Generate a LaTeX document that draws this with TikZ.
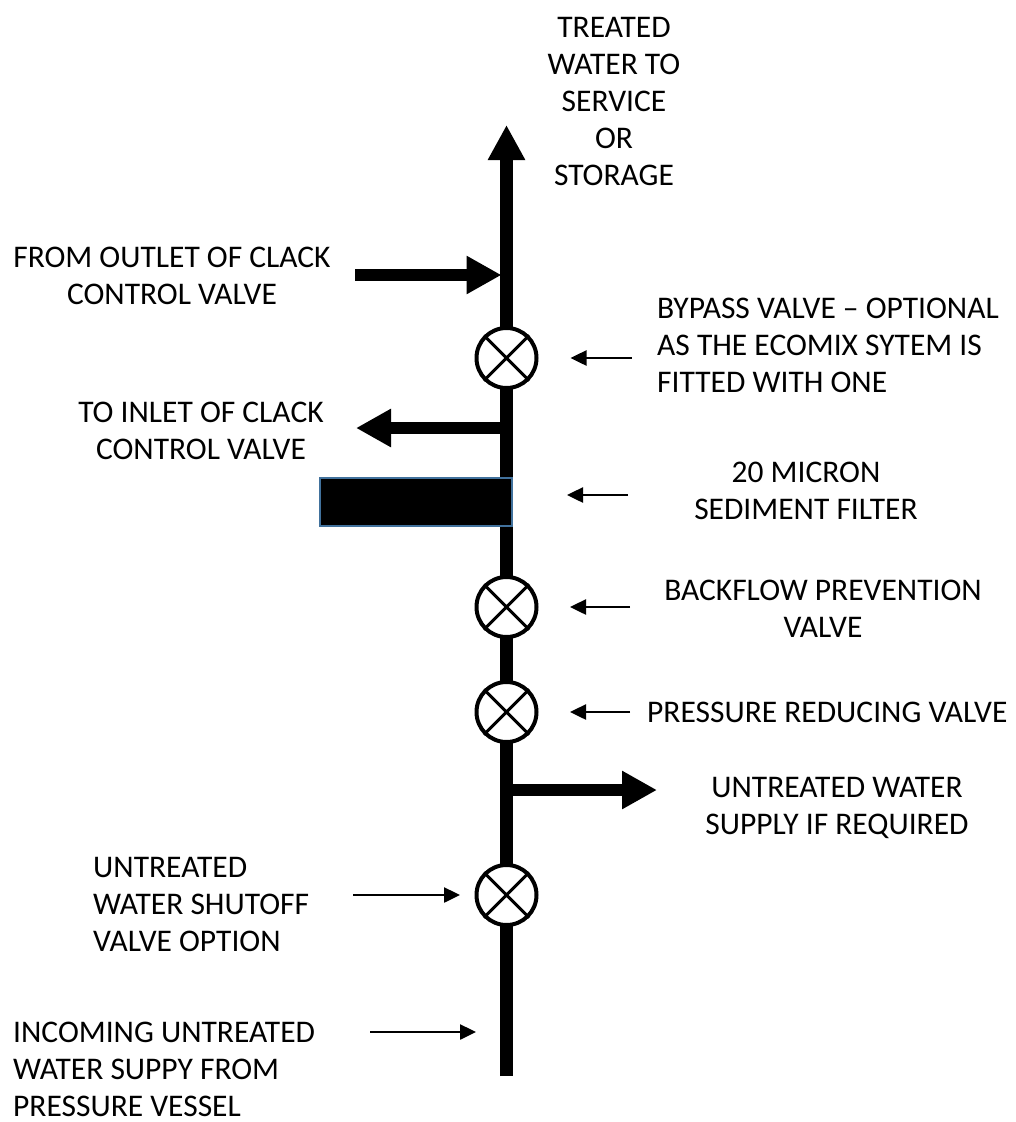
\documentclass[tikz,border=0pt]{standalone}
\usepackage{xcolor}
\usepackage{fontspec}
\setmainfont{Carlito}
\usetikzlibrary{arrows.meta}
\definecolor{filterblue}{HTML}{41719C}

\begin{document}
\begin{tikzpicture}[x=1pt,y=-1pt]
	\tikzstyle{label} = [font=\fontsize{31.5}{37}\selectfont, inner sep=0pt]
	\tikzstyle{valve} = [circle, draw, line width=4pt, fill=white, minimum size=60pt, inner sep=0pt]
	\tikzstyle{filterbox} = [draw=filterblue, line width=2pt, fill=black, minimum width=192pt, minimum height=48pt, inner sep=0pt]
	\tikzset{pipe/.style = {line width=12.5pt, -{Triangle[length=35pt,width=35pt]}}}
	\tikzset{flow/.style = {line width=12pt, -{Triangle[length=35pt,width=36pt]}}}
	\tikzset{pointer/.style = {line width=2.5pt, -{Triangle[length=16pt,width=15pt]}}}
	\tikzset{cross/.style = {line width=3pt}}
	
	\useasboundingbox (0,0) rectangle (1016,1122);
	
	% main line
	\coordinate (bottom) at (506.5,1076);
	\coordinate (top) at (506.5,125);
	\draw[pipe](bottom) to (top);
	
	% branches
	\coordinate (teeout) at (506.5,275);
	\coordinate (outletend) at (355,275);
	\draw[flow](outletend) to ([xshift=-5pt]teeout);
	
	\coordinate (teein) at (506.5,428);
	\coordinate (inletend) at (356,428);
	\draw[flow](teein) to (inletend);
	
	\coordinate (teeraw) at (506.5,790);
	\coordinate (rawend) at (657,790);
	\draw[flow](teeraw) to (rawend);
	
	% valves and filter
	\node[filterbox](filter) at (416,502) {};
	\node[valve](bypass) at (506.5,358) {};
	\node[valve](backflow) at (506.5,607) {};
	\node[valve](reducing) at (506.5,712) {};
	\node[valve](shutoff) at (506.5,895) {};
	\foreach \v in {bypass,backflow,reducing,shutoff}
		\draw[cross](\v.north east) to (\v.south west) (\v.north west) to (\v.south east);
	
	% labels
	\node[label, align=center](service) at (614,101) {TREATED\\WATER TO\\SERVICE\\OR\\STORAGE};
	\node[label, align=center](fromoutlet) at (172,275.5) {FROM OUTLET OF CLACK\\CONTROL VALVE};
	\node[label, align=center](toinlet) at (201,430.5) {TO INLET OF CLACK\\CONTROL VALVE};
	\node[label, align=left, anchor=west](bypasstext) at (657,345) {BYPASS VALVE -- OPTIONAL\\AS THE ECOMIX SYTEM IS\\FITTED WITH ONE};
	\node[label, align=center](filtertext) at (806,490.5) {20 MICRON\\SEDIMENT FILTER};
	\node[label, align=center](backflowtext) at (823,609) {BACKFLOW PREVENTION\\VALVE};
	\node[label, anchor=west](reducingtext) at (647,712) {PRESSURE REDUCING VALVE};
	\node[label, align=center](rawtext) at (837,808) {UNTREATED WATER\\SUPPLY IF REQUIRED};
	\node[label, align=left, anchor=west](shutofftext) at (93,904) {UNTREATED\\WATER SHUTOFF\\VALVE OPTION};
	\node[label, align=left, anchor=west](incomingtext) at (13,1069) {INCOMING UNTREATED\\WATER SUPPY FROM\\PRESSURE VESSEL};
	
	% pointers
	\draw[pointer]([xshift=93pt]bypass.east) to ([xshift=32pt]bypass.east);
	\draw[pointer]([xshift=115pt,yshift=7pt]filter.east) to ([xshift=54pt,yshift=7pt]filter.east);
	\draw[pointer]([xshift=91.5pt]backflow.east) to ([xshift=31.5pt]backflow.east);
	\draw[pointer]([xshift=91.5pt]reducing.east) to ([xshift=31.5pt]reducing.east);
	\draw[pointer]([xshift=-121.5pt]shutoff.west) to ([xshift=-14.5pt]shutoff.west);
	\coordinate (feed) at (506.5,1032);
	\draw[pointer]([xshift=-136.5pt]feed) to ([xshift=-30.5pt]feed);
	
\end{tikzpicture}
\end{document}
